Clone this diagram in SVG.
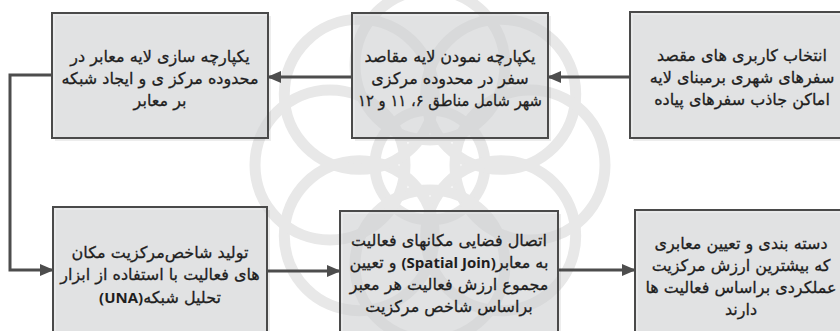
<svg xmlns="http://www.w3.org/2000/svg" width="840" height="331" viewBox="0 0 840 331">
  <defs>
    <style>
      .box { fill: #d8dadc; fill-opacity: 0.6; stroke: #4a4a4a; stroke-width: 2; }
      .shadow { fill: #000; opacity: 0.07; }
      .lbl { font-family: "DejaVu Sans", sans-serif; font-size: 16px; fill: #1e1e1e; stroke: #1e1e1e; stroke-width: 0.3; text-anchor: middle; direction: rtl; }
      .lat { font-family: "Open Sans", "DejaVu Sans", sans-serif; font-size: 15px; font-weight: bold; stroke-width: 0; }
      .wire { fill: none; stroke: #4d4d4d; stroke-width: 3; }
      .wm { fill: none; stroke: #e8e8e8; stroke-width: 11; }
    </style>
    <marker id="head" markerUnits="userSpaceOnUse" markerWidth="14" markerHeight="12" refX="13" refY="6" orient="auto">
      <path d="M0,0 L14,6 L0,12 z" fill="#4d4d4d"/>
    </marker>
  </defs>

  <rect width="840" height="331" fill="#ffffff"/>

  <!-- faint ornamental rosette in the background -->
  <g id="rosette" class="wm">
    <circle cx="430" cy="165" r="55"/>
    <g transform="translate(430,165)">
      <circle cx="0" cy="-100" r="75"/>
      <circle cx="0" cy="-100" r="75" transform="rotate(45)"/>
      <circle cx="0" cy="-100" r="75" transform="rotate(90)"/>
      <circle cx="0" cy="-100" r="75" transform="rotate(135)"/>
      <circle cx="0" cy="-100" r="75" transform="rotate(180)"/>
      <circle cx="0" cy="-100" r="75" transform="rotate(225)"/>
      <circle cx="0" cy="-100" r="75" transform="rotate(270)"/>
      <circle cx="0" cy="-100" r="75" transform="rotate(315)"/>
    </g>
  </g>

  <!-- connectors -->
  <g id="connectors">
    <path class="wire" d="M630,77 H548" marker-end="url(#head)"/>
    <path class="wire" d="M352,77 H268" marker-end="url(#head)"/>
    <path class="wire" d="M52,75 H10 V270 H53" marker-end="url(#head)"/>
    <path class="wire" d="M267,271 H340" marker-end="url(#head)"/>
    <path class="wire" d="M558,270 H635" marker-end="url(#head)"/>
  </g>

  <g id="n1">
    <rect class="shadow" x="55" y="16" width="216" height="125"/>
    <rect class="box" x="52" y="13" width="216" height="125"/>
    <text class="lbl" x="160" y="62">یکپارچه سازی لایه معابر در</text>
    <text class="lbl" x="160" y="84">محدوده مرکز ی و ایجاد شبکه</text>
    <text class="lbl" x="160" y="106">بر معابر</text>
  </g>

  <g id="n2">
    <rect class="shadow" x="355" y="16" width="196" height="125"/>
    <rect class="box" x="352" y="13" width="196" height="125"/>
    <text class="lbl" x="450" y="62">یکپارچه نمودن لایه مقاصد</text>
    <text class="lbl" x="450" y="84">سفر در محدوده مرکزی</text>
    <text class="lbl" x="450" y="106" textLength="184" lengthAdjust="spacingAndGlyphs">شهر شامل مناطق ۶، ۱۱ و ۱۲</text>
  </g>

  <g id="n3">
    <rect class="shadow" x="633" y="15" width="225" height="126"/>
    <rect class="box" x="630" y="12" width="225" height="126"/>
    <text class="lbl" x="742" y="61">انتخاب کاربری های مقصد</text>
    <text class="lbl" x="742" y="83">سفرهای شهری برمبنای لایه</text>
    <text class="lbl" x="742" y="105">اماکن جاذب سفرهای پیاده</text>
  </g>

  <g id="n4">
    <rect class="shadow" x="56" y="210" width="214" height="130"/>
    <rect class="box" x="53" y="207" width="214" height="130"/>
    <text class="lbl" x="160" y="258">تولید شاخص‌مرکزیت مکان</text>
    <text class="lbl" x="160" y="280">های فعالیت با استفاده از ابزار</text>
    <text class="lbl" x="160" y="303">تحلیل شبکه<tspan class="lat">(UNA)</tspan></text>
  </g>

  <g id="n5">
    <rect class="shadow" x="343" y="214" width="218" height="125"/>
    <rect class="box" x="340" y="211" width="218" height="125"/>
    <text class="lbl" x="449" y="246">اتصال فضایی مکانهای فعالیت</text>
    <text class="lbl" x="449" y="268">به معابر<tspan class="lat">(Spatial Join)</tspan> و تعیین</text>
    <text class="lbl" x="449" y="290">مجموع ارزش فعالیت هر معبر</text>
    <text class="lbl" x="449" y="312">براساس شاخص مرکزیت</text>
  </g>

  <g id="n6">
    <rect class="shadow" x="638" y="213" width="220" height="125"/>
    <rect class="box" x="635" y="210" width="220" height="125"/>
    <text class="lbl" x="741" y="249">دسته بندی و تعیین معابری</text>
    <text class="lbl" x="741" y="271">که بیشترین ارزش مرکزیت</text>
    <text class="lbl" x="741" y="293">عملکردی براساس فعالیت ها</text>
    <text class="lbl" x="741" y="315">دارند</text>
  </g>
</svg>
